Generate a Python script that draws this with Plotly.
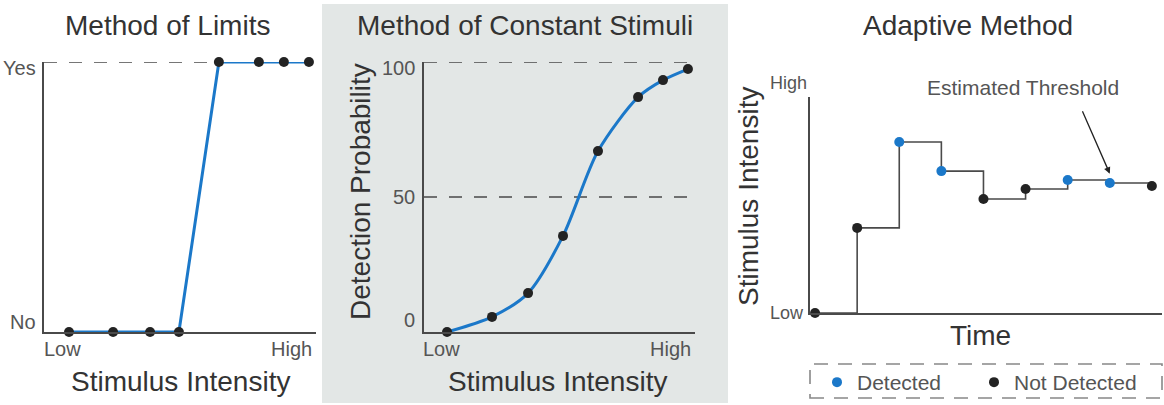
import plotly.graph_objects as go

W, H = 1164, 405

# ---------------- data ----------------
# Panel 1: Method of Limits (x: stimulus intensity 0-100, y: 0 = No, 1 = Yes)
limits_x = [9.2, 25.4, 39.0, 49.6, 64.3, 79.0, 88.2, 97.4]
limits_y = [0, 0, 0, 0, 1, 1, 1, 1]
limits_ylabels = ["No", "Yes"]

# Panel 2: Method of Constant Stimuli (detection probability %)
const_x = [8.5, 25.1, 38.4, 51.3, 64.2, 79.0, 88.2, 97.4]
const_y = [0, 5.6, 14.4, 35.6, 67.0, 87.0, 93.3, 97.4]
const_ticks = [0, 50, 100]

# Panel 3: Adaptive Method (trial index vs stimulus intensity 0-100)
adapt_t = [0, 1, 2, 3, 4, 5, 6, 7, 8]
adapt_y = [0, 39.4, 79.2, 65.7, 52.8, 57.4, 61.6, 60.2, 58.8]
adapt_detected = [False, False, True, True, False, False, True, True, False]

x_tick_labels = ["Low", "High"]

# ---------------- styles ----------------
BLUE = "#1b78c9"
DOT = "#232323"
AXC = "#4a4a4a"
TXT = "#333333"
LBL = "#555555"
FONT = "Liberation Sans, Arial, sans-serif"
DASH = "13px,12px"


def px_x(p):
    return p / W


def px_y(p):
    return 1 - p / H


fig = go.Figure()

# ---- panel 1 ----
fig.add_trace(go.Scatter(x=limits_x, y=limits_y, mode="lines+markers",
                         line=dict(color=BLUE, width=3),
                         marker=dict(color=DOT, size=10), cliponaxis=False,
                         xaxis="x", yaxis="y", showlegend=False, hoverinfo="skip"))
# ---- panel 2 ----
fig.add_trace(go.Scatter(x=const_x, y=const_y, mode="lines+markers",
                         line=dict(color=BLUE, width=3, shape="spline", smoothing=0.8),
                         marker=dict(color=DOT, size=10), cliponaxis=False,
                         xaxis="x2", yaxis="y2", showlegend=False, hoverinfo="skip"))
# ---- panel 3 ----
fig.add_trace(go.Scatter(x=adapt_t, y=adapt_y, mode="lines",
                         line=dict(color=AXC, width=1.6, shape="hv"), cliponaxis=False,
                         xaxis="x3", yaxis="y3", showlegend=False, hoverinfo="skip"))
det_x = [t for t, d in zip(adapt_t, adapt_detected) if d]
det_y = [v for v, d in zip(adapt_y, adapt_detected) if d]
nd_x = [t for t, d in zip(adapt_t, adapt_detected) if not d]
nd_y = [v for v, d in zip(adapt_y, adapt_detected) if not d]
fig.add_trace(go.Scatter(x=det_x, y=det_y, mode="markers", name="Detected",
                         marker=dict(color=BLUE, size=10), cliponaxis=False, legend="legend",
                         xaxis="x3", yaxis="y3", hoverinfo="skip"))
fig.add_trace(go.Scatter(x=nd_x, y=nd_y, mode="markers", name="Not Detected",
                         marker=dict(color=DOT, size=10), cliponaxis=False, legend="legend2",
                         xaxis="x3", yaxis="y3", hoverinfo="skip"))

axis_common = dict(showgrid=False, zeroline=False, showticklabels=False, ticks="",
                   showline=True, linecolor=AXC, linewidth=1.6, fixedrange=True)

legend_common = dict(orientation="h", xanchor="left", yanchor="top", y=px_y(362),
                     font=dict(size=21, color=LBL, family=FONT), bgcolor="rgba(0,0,0,0)",
                     borderwidth=0, itemclick=False, itemdoubleclick=False)

fig.update_layout(
    width=W, height=H,
    margin=dict(l=0, r=0, t=0, b=0, autoexpand=False),
    paper_bgcolor="white", plot_bgcolor="rgba(0,0,0,0)",
    font=dict(family=FONT, color=TXT),
    xaxis=dict(domain=[px_x(44), px_x(316)], range=[0, 100], anchor="y", **axis_common),
    yaxis=dict(domain=[px_y(332), px_y(62)], range=[0, 1], anchor="x", **axis_common),
    xaxis2=dict(domain=[px_x(424), px_x(695)], range=[0, 100], anchor="y2", **axis_common),
    yaxis2=dict(domain=[px_y(332), px_y(62)], range=[0, 100], anchor="x2", **axis_common),
    xaxis3=dict(domain=[px_x(810), px_x(1162)], range=[-0.12, 8.24], anchor="y3", **axis_common),
    yaxis3=dict(domain=[px_y(313), px_y(97)], range=[0, 100], anchor="x3", **axis_common),
    legend=dict(x=px_x(817), **legend_common),
    legend2=dict(x=px_x(974), **legend_common),
)

shapes = []
# grey background of middle panel
shapes.append(dict(type="rect", xref="paper", yref="paper", x0=px_x(322), x1=px_x(728),
                   y0=px_y(403), y1=px_y(4), fillcolor="#e3e7e6", line=dict(width=0),
                   layer="below"))
# dashed reference lines
shapes.append(dict(type="line", xref="x", yref="y", x0=0, x1=100, y0=1, y1=1,
                   line=dict(color=AXC, width=1.6, dash=DASH), layer="below"))
for v in const_ticks[1:]:
    shapes.append(dict(type="line", xref="x2", yref="y2", x0=0, x1=100, y0=v, y1=v,
                       line=dict(color=AXC, width=1.6, dash=DASH), layer="below"))
# dashed legend box
shapes.append(dict(type="rect", xref="paper", yref="paper", x0=px_x(810), x1=px_x(1162),
                   y0=px_y(398), y1=px_y(364), line=dict(color="#888888", width=1.6, dash="14px,10px"),
                   fillcolor="rgba(0,0,0,0)"))
fig.update_layout(shapes=shapes)

ann = []


def txt(x, y, s, size, color=TXT, xanchor="center", angle=0, xref="paper", yref="paper",
        yshift=0, xshift=0):
    ann.append(dict(x=x, y=y, xref=xref, yref=yref, text=s, showarrow=False,
                    font=dict(size=size, color=color, family=FONT), xanchor=xanchor,
                    yanchor="middle", textangle=angle, yshift=yshift, xshift=xshift))


# titles
txt(px_x(167), px_y(25), "Method of Limits", 28)
txt(px_x(525), px_y(25), "Method of Constant Stimuli", 28)
txt(px_x(968), px_y(25), "Adaptive Method", 28)

# panel 1 labels
txt(px_x(38), 1, limits_ylabels[1], 20, LBL, "right", xref="paper", yref="y", yshift=-6)
txt(px_x(38), 0, limits_ylabels[0], 20, LBL, "right", xref="paper", yref="y", yshift=10)
txt(px_x(42), px_y(349), x_tick_labels[0], 20, LBL, "left")
txt(px_x(314), px_y(349), x_tick_labels[1], 20, LBL, "right")
txt(px_x(180), px_y(381), "Stimulus Intensity", 28)

# panel 2 labels
for v, dy in zip(const_ticks, [12, 0, -6]):
    txt(px_x(417), v, str(v), 20, LBL, "right", xref="paper", yref="y2", yshift=dy)
txt(px_x(421), px_y(349), x_tick_labels[0], 20, LBL, "left")
txt(px_x(693), px_y(349), x_tick_labels[1], 20, LBL, "right")
txt(px_x(557), px_y(381), "Stimulus Intensity", 28)
txt(px_x(360), px_y(192), "Detection Probability", 28, angle=-90)

# panel 3 labels
txt(px_x(809), px_y(83), x_tick_labels[1], 18, LBL, "right")
txt(px_x(806), px_y(313), x_tick_labels[0], 18, LBL, "right")
txt(px_x(748), px_y(197), "Stimulus Intensity", 28, angle=-90)
txt(px_x(980), px_y(335), "Time", 28)
txt(px_x(1023), px_y(88), "Estimated Threshold", 21, LBL)

# arrow to estimated threshold
ann.append(dict(x=7.0, y=64.5, xref="x3", yref="y3", ax=-28, ay=-64, axref="pixel",
                ayref="pixel", text="", showarrow=True, arrowhead=2, arrowsize=1,
                arrowwidth=1.3, arrowcolor="#222222", standoff=0))

fig.update_layout(annotations=ann)

fig.write_html("out.html", config={"displayModeBar": False})
